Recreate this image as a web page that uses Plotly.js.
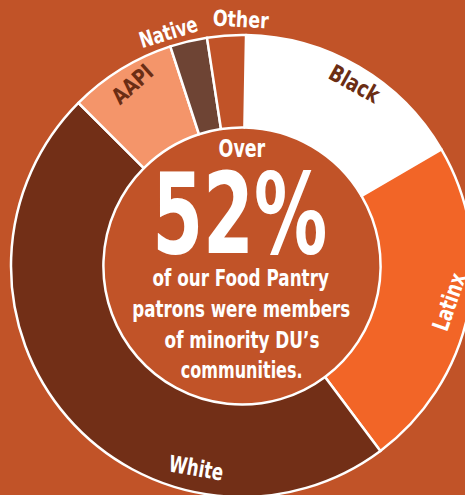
<!DOCTYPE html>
<html>
<head>
<meta charset="utf-8">
<script src="https://cdn.plot.ly/plotly-3.0.1.min.js"></script>
<style>
html,body{margin:0;padding:0;overflow:hidden;background:#C15328;width:465px;height:495px;}
#chart{position:absolute;left:0;top:0;}
</style>
</head>
<body>
<div id="chart"></div>
<script>
// Data
const categories = ["Black", "Latinx", "White", "AAPI", "Native", "Other"];
const shares = [16.3, 23.2, 47.7, 7.5, 2.6, 2.7];
const sliceColors = ["#FFFFFF", "#F26527", "#722F17", "#F4956A", "#6E4434", "#C15328"];
const headline = "52%";
const messageLines = ["of our Food Pantry", "patrons were members", "of minority DU\u2019s", "communities."];

// Layout helpers (pixel -> paper)
const W = 484, H = 500;
const cx = 242, cy = 266, R = 231;
function px(x, y) { return {x: x / W, y: 1 - y / H}; }
const FONT = "'DejaVu Sans Condensed', 'DejaVu Sans', sans-serif";

const trace = {
  type: "pie",
  labels: categories,
  values: shares,
  sort: false,
  direction: "clockwise",
  rotation: 1,
  hole: 0.6,
  textinfo: "none",
  hoverinfo: "none",
  marker: {colors: sliceColors, line: {color: "#FFFFFF", width: 2.5}},
  domain: {x: [(cx - R) / W, (cx + R) / W], y: [1 - (cy + R) / H, 1 - (cy - R) / H]},
  showlegend: false
};

// each annotation: text, x, y, size, color, angle, target rendered width (condensed look)
const targetWidths = [];
function ann(text, x, y, size, color, angle, tw) {
  const p = px(x, y);
  targetWidths.push(tw);
  return {
    text: "<b>" + text + "</b>", x: p.x, y: p.y, xref: "paper", yref: "paper",
    xanchor: "center", yanchor: "middle", showarrow: false,
    textangle: angle || 0,
    font: {family: FONT, size: size, color: color}
  };
}

const annotations = [
  ann("Over", 242, 149, 24, "#FFFFFF", 0, 47),
  ann(headline, 239, 214, 113, "#FFFFFF", 0, 175),
  ann(messageLines[0], 241, 278, 23, "#FFFFFF", 0, 177),
  ann(messageLines[1], 241, 309, 23, "#FFFFFF", 0, 218),
  ann(messageLines[2], 242, 340, 23, "#FFFFFF", 0, 155),
  ann(messageLines[3], 241, 370, 23, "#FFFFFF", 0, 122),
  ann(categories[0], 355, 84, 23, "#6B2D14", 29, 55),
  ann(categories[1], 449, 302, 23, "#FFFFFF", -71, 60),
  ann(categories[2], 196, 468, 23, "#FFFFFF", 10, 55),
  ann(categories[3], 132, 84, 22, "#6B2D14", -42, 47),
  ann(categories[4], 168, 32, 22, "#FFFFFF", -17, 60),
  ann(categories[5], 241, 19, 22, "#FFFFFF", 3, 56)
];

const layout = {
  width: W, height: H,
  margin: {l: 0, r: 0, t: 0, b: 0, pad: 0},
  paper_bgcolor: "#C15328",
  plot_bgcolor: "#C15328",
  annotations: annotations
};

function condense() {
  const groups = document.querySelectorAll("#chart g.annotation");
  groups.forEach(function (g) {
    const idx = parseInt(g.getAttribute("data-index"), 10);
    const t = g.querySelector("text.annotation-text");
    if (!t || isNaN(idx)) return;
    t.removeAttribute("transform");
    const bb = t.getBBox();
    const s = Math.min(1, targetWidths[idx] / bb.width);
    const c = bb.x + bb.width / 2;
    t.setAttribute("transform", "translate(" + c + ",0) scale(" + s + ",1) translate(" + (-c) + ",0)");
  });
}

Plotly.newPlot("chart", [trace], layout, {staticPlot: true, displayModeBar: false}).then(condense);
</script>
</body>
</html>
